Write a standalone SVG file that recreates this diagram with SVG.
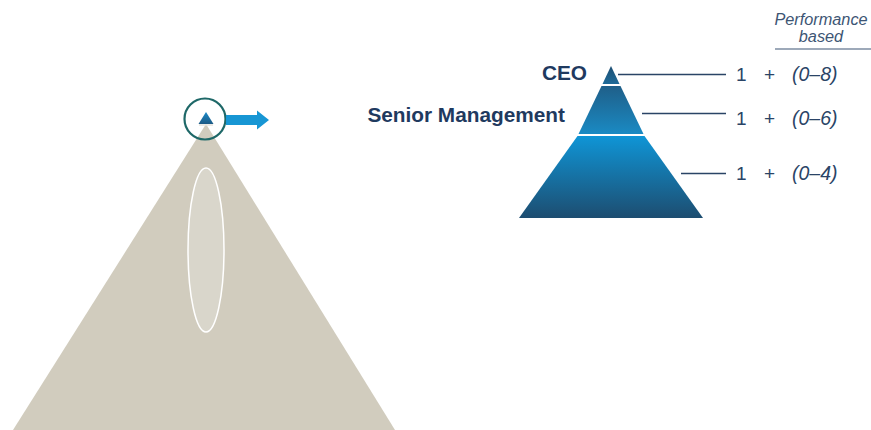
<svg xmlns="http://www.w3.org/2000/svg" width="871" height="430" viewBox="0 0 871 430">
<defs>
<style>
.lbl{font-family:"Liberation Sans",Arial,sans-serif;font-weight:bold;font-size:20.8px;fill:#1f3a5f}
.num{font-family:"Liberation Sans",Arial,sans-serif;font-size:19px;fill:#2a4466}
.it{font-family:"Liberation Sans",Arial,sans-serif;font-style:italic;font-size:19.5px;fill:#2a4466}
.hdr{font-family:"Liberation Sans",Arial,sans-serif;font-style:italic;font-size:16.3px;fill:#3d5574}
.lead{stroke:#2a4466;stroke-width:1.3;fill:none}
</style>
<linearGradient id="g1" x1="0" y1="0" x2="0" y2="1"><stop offset="0" stop-color="#1d4e72"/><stop offset="1" stop-color="#1e6a98"/></linearGradient>
<linearGradient id="g2" x1="0" y1="0" x2="0" y2="1"><stop offset="0" stop-color="#1f5f89"/><stop offset="1" stop-color="#1a8ac3"/></linearGradient>
<linearGradient id="g3" x1="0" y1="0" x2="0" y2="1"><stop offset="0" stop-color="#0f95d6"/><stop offset="1" stop-color="#1d4d70"/></linearGradient>
<linearGradient id="gs" x1="0" y1="0" x2="0" y2="1"><stop offset="0" stop-color="#1a8ac8"/><stop offset="1" stop-color="#1d5a85"/></linearGradient>
</defs>
<g id="left-pyramid">
<polygon points="206,124 13,430 395,430" fill="#d1ccbe"/>
<ellipse cx="206" cy="250" rx="18" ry="82" fill="#d9d6cb" stroke="#ffffff" stroke-width="1.5"/>
<line x1="199" y1="125" x2="213" y2="125" stroke="#e6e3dc" stroke-width="1.5"/>
<polygon points="206,112 198.5,124 213.5,124" fill="url(#gs)"/>
<circle cx="205" cy="119" r="20.5" fill="none" stroke="#1e6868" stroke-width="2.2"/>
</g>
<g id="arrow">
<polygon points="226,115 257,115 257,110.5 269,120 257,129.5 257,125 226,125" fill="#1796d4"/>
</g>
<g id="right-pyramid">
<polygon points="611,66 602.5,84 619.5,84" fill="url(#g1)"/>
<polygon points="601.5,86 620.5,86 643.5,134 578.5,134" fill="url(#g2)"/>
<polygon points="577.5,136 644.5,136 703,218 519,218" fill="url(#g3)"/>
</g>
<g id="connectors">
<line class="lead" x1="618" y1="74.5" x2="726" y2="74.5"/>
<line class="lead" x1="642" y1="113.5" x2="726" y2="113.5"/>
<line class="lead" x1="681" y1="173.5" x2="726" y2="173.5"/>
</g>
<g id="labels">
<text class="lbl" x="587" y="80" text-anchor="end">CEO</text>
<text class="lbl" x="565" y="122" text-anchor="end">Senior Management</text>
</g>
<g id="header">
<text class="hdr" x="821" y="25" text-anchor="middle">Performance</text>
<text class="hdr" x="821" y="42" text-anchor="middle">based</text>
<line x1="775" y1="49" x2="871" y2="49" stroke="#3d5574" stroke-width="1.2"/>
</g>
<g id="row1">
<text class="num" x="736" y="81">1</text>
<text class="num" x="764" y="81">+</text>
<text class="it" x="792" y="81">(0–8)</text>
</g>
<g id="row2">
<text class="num" x="736" y="125">1</text>
<text class="num" x="764" y="125">+</text>
<text class="it" x="792" y="125">(0–6)</text>
</g>
<g id="row3">
<text class="num" x="736" y="180">1</text>
<text class="num" x="764" y="180">+</text>
<text class="it" x="792" y="180">(0–4)</text>
</g>
</svg>
